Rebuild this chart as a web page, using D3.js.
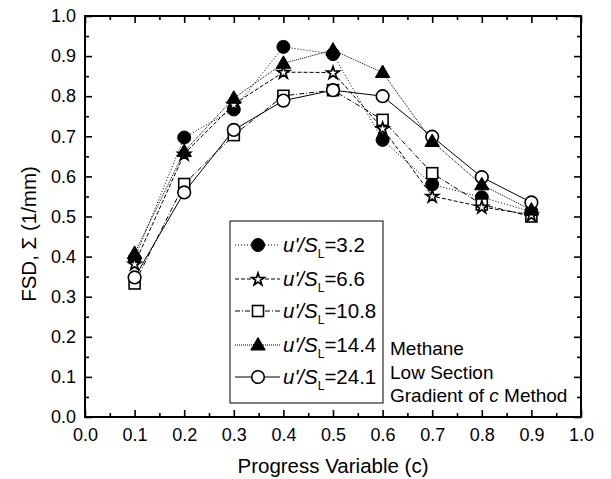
<!DOCTYPE html>
<html>
<head>
<meta charset="utf-8">
<script src="https://cdn.jsdelivr.net/npm/d3@7"></script>
<style>
  html, body { margin: 0; padding: 0; background: #fff; }
  svg { display: block; }
  text { font-family: "Liberation Sans", Arial, sans-serif; fill: #000; }
</style>
</head>
<body>
<svg id="chart" width="611" height="479"></svg>
<script>
// Progress variable positions
const progress = [0.1, 0.2, 0.3, 0.4, 0.5, 0.6, 0.7, 0.8, 0.9];

// FSD values (1/mm) for each turbulence intensity u'/S_L
const fsd_3_2  = [0.395, 0.697, 0.767, 0.923, 0.905, 0.691, 0.580, 0.548, 0.512];
const fsd_6_6  = [0.382, 0.656, 0.780, 0.860, 0.859, 0.720, 0.551, 0.524, 0.504];
const fsd_10_8 = [0.333, 0.581, 0.703, 0.801, 0.815, 0.741, 0.608, 0.530, 0.500];
const fsd_14_4 = [0.408, 0.662, 0.795, 0.882, 0.915, 0.859, 0.687, 0.579, 0.516];
const fsd_24_1 = [0.348, 0.560, 0.716, 0.789, 0.815, 0.800, 0.699, 0.598, 0.535];

const seriesLabels = ["3.2", "6.6", "10.8", "14.4", "24.1"];
const xTicks = [0.0, 0.1, 0.2, 0.3, 0.4, 0.5, 0.6, 0.7, 0.8, 0.9, 1.0];
const yTicks = [0.0, 0.1, 0.2, 0.3, 0.4, 0.5, 0.6, 0.7, 0.8, 0.9, 1.0];
const noteLines = ["Methane", "Low Section", "Gradient of c Method"];

const series = [
  { label: seriesLabels[0], values: fsd_3_2,  marker: "circleFilled", dash: "1,2" },
  { label: seriesLabels[1], values: fsd_6_6,  marker: "star",         dash: "4,2" },
  { label: seriesLabels[2], values: fsd_10_8, marker: "square",       dash: "5,2,1,2" },
  { label: seriesLabels[3], values: fsd_14_4, marker: "triangle",     dash: "1,1" },
  { label: seriesLabels[4], values: fsd_24_1, marker: "circleOpen",   dash: null }
];
// drawing order of the marker layers
const drawOrder = [0, 2, 1, 4, 3];

const svg = d3.select("#chart");
const margin = { left: 85, top: 16, right: 30, bottom: 62 };
const W = 611, H = 479;

const x = d3.scaleLinear().domain([0, 1]).range([margin.left, W - margin.right]);
const y = d3.scaleLinear().domain([0, 1]).range([H - margin.bottom, margin.top]);

const x0 = x(0), x1 = x(1), y0 = y(0), y1 = y(1);

const tickFont = 18, titleFont = 20.5;

// Inward ticks on all four sides
const majorLen = 7, minorLen = 4;
const minorX = d3.range(0.05, 1.0, 0.1);
const minorY = d3.range(0.05, 1.0, 0.1);

const axB = d3.axisBottom(x).tickValues(xTicks).tickSizeInner(-majorLen).tickSizeOuter(0).tickFormat(d3.format(".1f")).tickPadding(11);
const axL = d3.axisLeft(y).tickValues(yTicks).tickSizeInner(-majorLen).tickSizeOuter(0).tickFormat(d3.format(".1f")).tickPadding(9);
const axT = d3.axisTop(x).tickValues(xTicks).tickSizeInner(-majorLen).tickSizeOuter(0).tickFormat("");
const axR = d3.axisRight(y).tickValues(yTicks).tickSizeInner(-majorLen).tickSizeOuter(0).tickFormat("");

function styleAxis(g) {
  g.select(".domain").remove();
  g.selectAll(".tick line").attr("stroke", "#000").attr("stroke-width", 1.6);
  g.selectAll(".tick text").attr("font-size", tickFont).attr("fill", "#000")
    .attr("font-family", "'Liberation Sans', Arial, sans-serif");
}

svg.append("g").attr("transform", `translate(0,${y0})`).call(axB).call(styleAxis);
svg.append("g").attr("transform", `translate(${x0},0)`).call(axL).call(styleAxis);
svg.append("g").attr("transform", `translate(0,${y1})`).call(axT).call(styleAxis);
svg.append("g").attr("transform", `translate(${x1},0)`).call(axR).call(styleAxis);

// minor ticks
const axBm = d3.axisBottom(x).tickValues(minorX).tickSizeInner(-minorLen).tickSizeOuter(0).tickFormat("");
const axLm = d3.axisLeft(y).tickValues(minorY).tickSizeInner(-minorLen).tickSizeOuter(0).tickFormat("");
const axTm = d3.axisTop(x).tickValues(minorX).tickSizeInner(-minorLen).tickSizeOuter(0).tickFormat("");
const axRm = d3.axisRight(y).tickValues(minorY).tickSizeInner(-minorLen).tickSizeOuter(0).tickFormat("");
svg.append("g").attr("transform", `translate(0,${y0})`).call(axBm).call(styleAxis);
svg.append("g").attr("transform", `translate(${x0},0)`).call(axLm).call(styleAxis);
svg.append("g").attr("transform", `translate(0,${y1})`).call(axTm).call(styleAxis);
svg.append("g").attr("transform", `translate(${x1},0)`).call(axRm).call(styleAxis);

// frame
svg.append("rect")
  .attr("x", x0).attr("y", y1).attr("width", x1 - x0).attr("height", y0 - y1)
  .attr("fill", "none").attr("stroke", "#000").attr("stroke-width", 2);

// axis titles
svg.append("text")
  .attr("x", (x0 + x1) / 2).attr("y", 473)
  .attr("text-anchor", "middle").attr("font-size", titleFont)
  .text("Progress Variable (c)");

svg.append("text")
  .attr("transform", `translate(36,${234}) rotate(-90)`)
  .attr("text-anchor", "middle").attr("font-size", titleFont)
  .text("FSD, \u03A3 (1/mm)");

// marker drawing
const triPath = "M0,-7.5L7.2,5L-7.2,5Z";
function drawMarker(g, type, cx, cy) {
  if (type === "circleFilled") {
    g.append("circle").attr("cx", cx).attr("cy", cy).attr("r", 6.5)
      .attr("fill", "#000").attr("stroke", "#000").attr("stroke-width", 1);
  } else if (type === "circleOpen") {
    g.append("circle").attr("cx", cx).attr("cy", cy).attr("r", 6.3)
      .attr("fill", "#fff").attr("stroke", "#000").attr("stroke-width", 1.6);
  } else if (type === "square") {
    g.append("rect").attr("x", cx - 5.5).attr("y", cy - 5.5).attr("width", 11).attr("height", 11)
      .attr("fill", "#fff").attr("stroke", "#000").attr("stroke-width", 1.6);
  } else if (type === "triangle") {
    g.append("path").attr("d", triPath).attr("transform", `translate(${cx},${cy})`)
      .attr("fill", "#000").attr("stroke", "#000").attr("stroke-width", 1);
  } else if (type === "star") {
    g.append("path").attr("d", d3.symbol(d3.symbolStar, 48)())
      .attr("transform", `translate(${cx},${cy + 0.5})`)
      .attr("fill", "#fff").attr("stroke", "#000").attr("stroke-width", 1.7)
      .attr("stroke-linejoin", "miter");
  }
}

// series lines
const line = d3.line().x((d, i) => x(progress[i])).y(d => y(d));
const linesG = svg.append("g");
series.forEach(s => {
  linesG.append("path")
    .attr("d", line(s.values))
    .attr("fill", "none").attr("stroke", "#000").attr("stroke-width", 1)
    .attr("stroke-dasharray", s.dash);
});

// series markers
const markersG = svg.append("g");
drawOrder.forEach(k => {
  const s = series[k];
  const g = markersG.append("g");
  s.values.forEach((v, i) => drawMarker(g, s.marker, x(progress[i]), y(v)));
});

// legend
const legend = svg.append("g");
legend.append("rect")
  .attr("x", 230).attr("y", 221).attr("width", 153).attr("height", 182)
  .attr("fill", "#fff").attr("stroke", "#000").attr("stroke-width", 1);

const rowY = [245, 279, 311, 345, 377];
series.forEach((s, k) => {
  const cy = rowY[k];
  legend.append("line")
    .attr("x1", 235).attr("x2", 280).attr("y1", cy).attr("y2", cy)
    .attr("stroke", "#000").attr("stroke-width", 1).attr("stroke-dasharray", s.dash);
  drawMarker(legend, s.marker, 258, cy);
  const t = legend.append("text").attr("x", 283).attr("y", cy + 7).attr("font-size", 20.5);
  t.append("tspan").attr("font-style", "italic").text("u'/S");
  t.append("tspan").attr("font-size", 12).attr("dy", 6).text("L");
  t.append("tspan").attr("dy", -6).text("=" + s.label);
});

// annotation
const note = svg.append("g");
const noteY = [355, 379, 402];
noteLines.forEach((ln, i) => {
  const t = note.append("text").attr("x", 390).attr("y", noteY[i]).attr("font-size", 19);
  if (ln.includes(" c ")) {
    const parts = ln.split(" c ");
    t.append("tspan").text(parts[0] + " ");
    t.append("tspan").attr("font-style", "italic").text("c");
    t.append("tspan").text(" " + parts[1]);
  } else {
    t.text(ln);
  }
});
</script>
</body>
</html>
